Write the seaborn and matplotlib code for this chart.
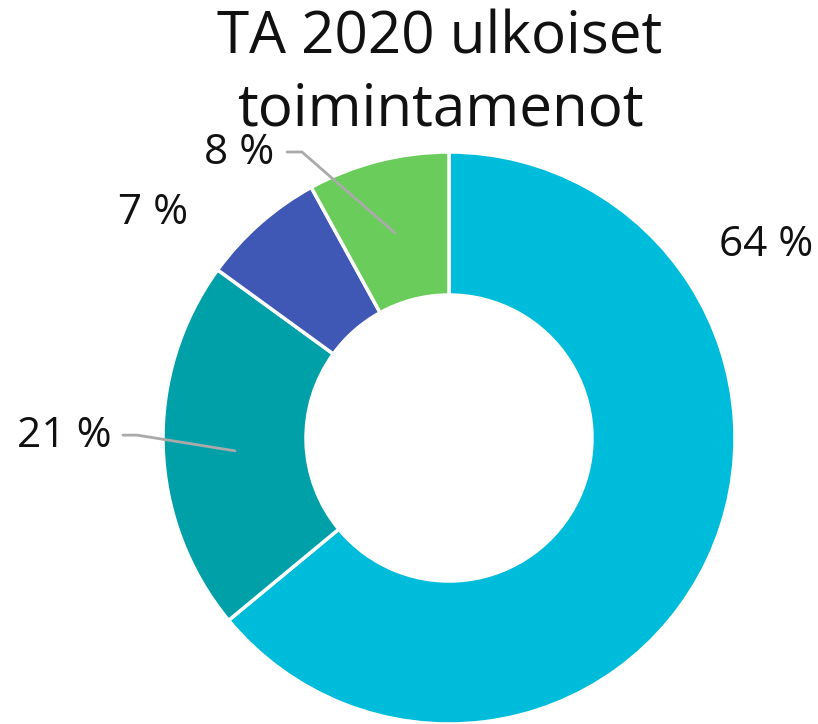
import matplotlib
matplotlib.use("Agg")
import matplotlib.pyplot as plt
import seaborn as sns

# Data
SHARES = [64, 21, 7, 8]
COLORS = ["#00BCDB", "#00A0A9", "#3F58B5", "#6ACD5B"]
TITLE = "TA 2020 ulkoiset\ntoimintamenot"

# label positions (data coords, pie radius = 1)
LABEL_POS = [(1.108, 0.675), (-1.346, 0.007), (-1.035, 0.787), (-0.734, 0.997)]
# leader lines for the small/left labels
LEADERS = {1: [(-1.14, 0.01), (-1.09, 0.01), (-0.748, -0.045)],
           3: [(-0.566, 1.0), (-0.514, 1.0), (-0.189, 0.717)]}

sns.set_theme(style="white")
plt.rcParams['font.family'] = ['Open Sans', 'DejaVu Sans']

fig = plt.figure(figsize=(8.18, 7.24), dpi=100)
cx, cy, r = 449, 438, 286
W, H = 818, 724
ax = fig.add_axes([(cx - r) / W, (H - cy - r) / H, 2 * r / W, 2 * r / H])

ax.pie(SHARES, colors=COLORS, startangle=90, counterclock=False,
       wedgeprops=dict(width=0.5, edgecolor="white", linewidth=2.5))
ax.set_xlim(-1, 1)
ax.set_ylim(-1, 1)
ax.set_aspect("equal")
ax.set_axis_off()

for i, (val, (x, y)) in enumerate(zip(SHARES, LABEL_POS)):
    ax.text(x, y, f"{val} %", ha="center", va="center", fontsize=30.5,
            color="#111111", clip_on=False)
    if i in LEADERS:
        xs, ys = zip(*LEADERS[i])
        ax.plot(xs, ys, color="#AAAAAA", lw=2, clip_on=False)

# title, one line at a time so the baselines sit where they should
for line, base in zip(TITLE.split("\n"), [53, 125]):
    fig.text(440 / W, 1 - base / H, line, ha="center", va="baseline",
             fontsize=42, color="#111111")

fig.savefig("out.png", dpi=100)
